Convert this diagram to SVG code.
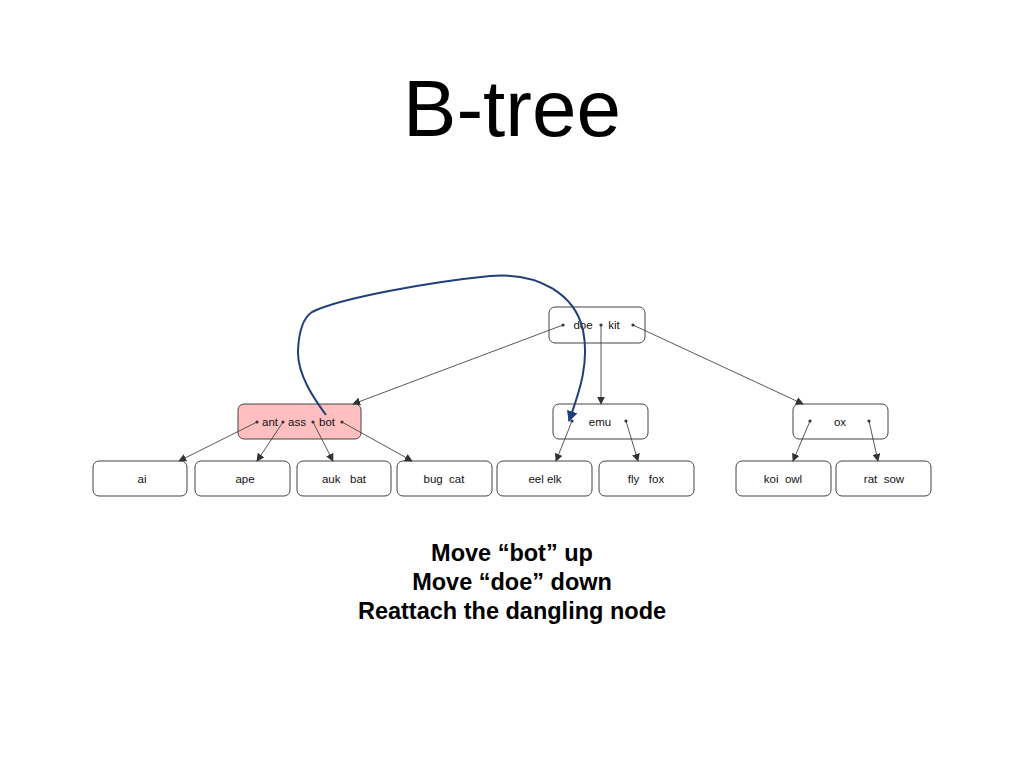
<svg xmlns="http://www.w3.org/2000/svg" width="1024" height="768" viewBox="0 0 1024 768">
<defs>
<marker id="ah" viewBox="0 0 10 10" refX="9" refY="5" markerWidth="8" markerHeight="8" markerUnits="userSpaceOnUse" orient="auto">
<path d="M0,0 L10,5 L0,10 z" fill="#333"/>
</marker>
<marker id="ahb" viewBox="0 0 10 10" refX="9" refY="5" markerWidth="11" markerHeight="11" markerUnits="userSpaceOnUse" orient="auto">
<path d="M0,0 L10,5 L0,10 z" fill="#1f3f7a"/>
</marker>
<style>
.n{fill:#fff;stroke:#444;stroke-width:1}
.hl{fill:#ffbfc0;stroke:#444;stroke-width:1}
.t{font-family:"Liberation Sans",Arial,sans-serif;font-size:11.5px;fill:#111;text-anchor:middle;white-space:pre}
.e{stroke:#444;stroke-width:0.9;fill:none;marker-end:url(#ah)}
.d{fill:#333}
.cap{font-family:"Liberation Sans",Arial,sans-serif;font-size:23.5px;font-weight:bold;fill:#000;text-anchor:middle}
</style>
</defs>
<rect width="1024" height="768" fill="#fff"/>
<text x="512" y="136" style="font-family:'Liberation Sans',Arial,sans-serif;font-size:80px;fill:#000;text-anchor:middle">B-tree</text>

<g id="root"><rect class="n" x="549" y="307" width="96" height="36" rx="6"/><text class="t" x="583" y="329">doe</text><text class="t" x="614" y="329">kit</text></g>
<g id="n-ant"><rect class="hl" x="238" y="404" width="123" height="35" rx="6"/><text class="t" x="270" y="426">ant</text><text class="t" x="297" y="426">ass</text><text class="t" x="327" y="426">bot</text></g>
<g id="n-emu"><rect class="n" x="553" y="404" width="95" height="35" rx="6"/><text class="t" x="600" y="426">emu</text></g>
<g id="n-ox"><rect class="n" x="793" y="404" width="95" height="35" rx="6"/><text class="t" x="840" y="426">ox</text></g>

<g id="l-ai"><rect class="n" x="93" y="461" width="94" height="35" rx="6"/><text class="t" x="142" y="483">ai</text></g>
<g id="l-ape"><rect class="n" x="195" y="461" width="95" height="35" rx="6"/><text class="t" x="245" y="483">ape</text></g>
<g id="l-auk"><rect class="n" x="297" y="461" width="94" height="35" rx="6"/><text class="t" x="344" y="483" xml:space="preserve">auk   bat</text></g>
<g id="l-bug"><rect class="n" x="397" y="461" width="95" height="35" rx="6"/><text class="t" x="444" y="483" xml:space="preserve">bug  cat</text></g>
<g id="l-eel"><rect class="n" x="497" y="461" width="95" height="35" rx="6"/><text class="t" x="545" y="483">eel elk</text></g>
<g id="l-fly"><rect class="n" x="599" y="461" width="95" height="35" rx="6"/><text class="t" x="646" y="483" xml:space="preserve">fly   fox</text></g>
<g id="l-koi"><rect class="n" x="736" y="461" width="95" height="35" rx="6"/><text class="t" x="783" y="483" xml:space="preserve">koi  owl</text></g>
<g id="l-rat"><rect class="n" x="836" y="461" width="95" height="35" rx="6"/><text class="t" x="884" y="483" xml:space="preserve">rat  sow</text></g>

<g id="connectors">
<circle class="d" cx="563" cy="325" r="1.6"/><circle class="d" cx="601" cy="325" r="1.6"/><circle class="d" cx="633" cy="325" r="1.6"/>
<line class="e" x1="563" y1="325" x2="353" y2="404"/>
<line class="e" x1="601" y1="325" x2="601" y2="404"/>
<line class="e" x1="633" y1="325" x2="803" y2="404"/>
<circle class="d" cx="257" cy="422" r="1.6"/><circle class="d" cx="283" cy="422" r="1.6"/><circle class="d" cx="313" cy="422" r="1.6"/><circle class="d" cx="342" cy="422" r="1.6"/>
<line class="e" x1="257" y1="422" x2="179" y2="461"/>
<line class="e" x1="283" y1="422" x2="257" y2="461"/>
<line class="e" x1="313" y1="422" x2="333" y2="461"/>
<line class="e" x1="342" y1="422" x2="412" y2="461"/>
<circle class="d" cx="572" cy="421" r="1.6"/><circle class="d" cx="626" cy="421" r="1.6"/>
<line class="e" x1="572" y1="421" x2="556" y2="461"/>
<line class="e" x1="626" y1="421" x2="638" y2="461"/>
<circle class="d" cx="810" cy="421" r="1.6"/><circle class="d" cx="869" cy="421" r="1.6"/>
<line class="e" x1="810" y1="421" x2="793" y2="461"/>
<line class="e" x1="869" y1="421" x2="878" y2="461"/>
<path d="M326,415 C315,400 297,375 298,350 C299,330 303,318 312,312 C340,298 430,282 490,276 C540,272 575,295 583,330 C590,365 578,395 569,421" fill="none" stroke="#1f3f7a" stroke-width="2" marker-end="url(#ahb)"/>
</g>

<text class="cap" x="512" y="561">Move “bot” up</text>
<text class="cap" x="512" y="590">Move “doe” down</text>
<text class="cap" x="512" y="619">Reattach the dangling node</text>
</svg>
